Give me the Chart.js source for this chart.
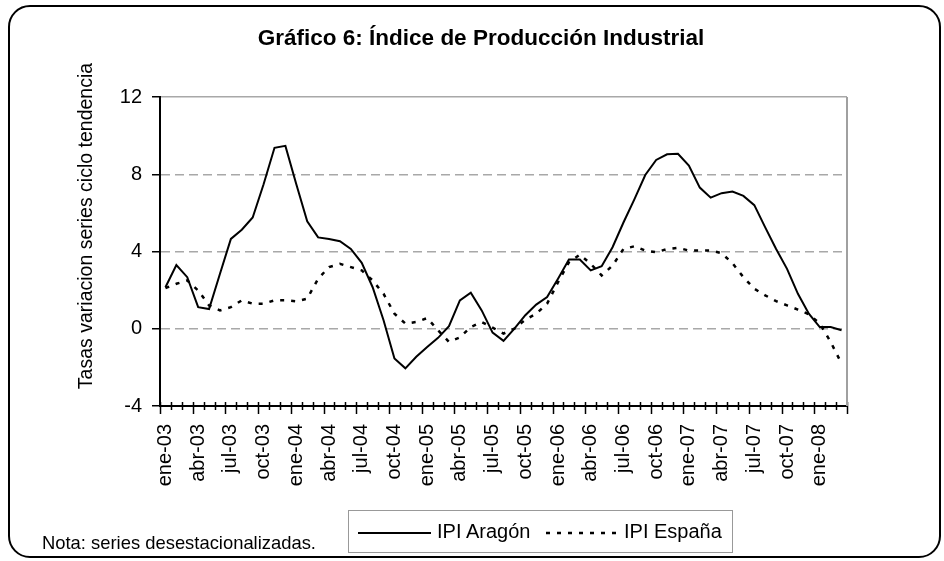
<!DOCTYPE html>
<html>
<head>
<meta charset="utf-8">
<script src="https://cdn.jsdelivr.net/npm/chart.js@4"></script>
<style>
  body { margin: 0; background: #fff; font-family: "Liberation Sans", Arial, sans-serif; }
  #wrap { position: relative; width: 944px; height: 561px; overflow: hidden; }
  #frame { position: absolute; left: 8px; top: 5px; width: 933px; height: 553px; box-sizing: border-box;
           border: 2px solid #000; border-radius: 22px; }
  #titulo { position: absolute; left: 0; width: 962px; top: 25px; text-align: center;
            font-weight: bold; font-size: 22.5px; color: #000; }
  #ytitulo { position: absolute; left: 85px; top: 226px; transform: translate(-50%, -50%) rotate(-90deg);
             white-space: nowrap; font-size: 19.5px; color: #000; }
  #leyenda { position: absolute; left: 348px; top: 510px; width: 385px; height: 43px; box-sizing: border-box;
             border: 1px solid #999; background: #fff; }
  #leyenda svg { position: absolute; left: 0; top: 0; }
  .leytxt { position: absolute; top: 9px; font-size: 20px; color: #000; }
  #nota { position: absolute; left: 42px; top: 532px; font-size: 18.4px; color: #000; }
</style>
</head>
<body>
<div id="wrap">
  <canvas id="ipiChart" width="944" height="561"></canvas>
  <div id="frame"></div>
  <div id="titulo">Gráfico 6: Índice de Producción Industrial</div>
  <div id="ytitulo">Tasas variacion series ciclo tendencia</div>
  <div id="leyenda">
    <svg width="385" height="43">
      <line x1="9" y1="22" x2="82" y2="22" stroke="#000" stroke-width="2"/>
      <line x1="197" y1="22" x2="269" y2="22" stroke="#000" stroke-width="2.5" stroke-dasharray="4 7"/>
    </svg>
    <span class="leytxt" style="left:88px">IPI Aragón</span>
    <span class="leytxt" style="left:275px">IPI España</span>
  </div>
  <div id="nota">Nota: series desestacionalizadas.</div>
</div>
<script>
  const meses = [
    "ene-03","feb-03","mar-03","abr-03","may-03","jun-03","jul-03","ago-03","sep-03","oct-03","nov-03","dic-03",
    "ene-04","feb-04","mar-04","abr-04","may-04","jun-04","jul-04","ago-04","sep-04","oct-04","nov-04","dic-04",
    "ene-05","feb-05","mar-05","abr-05","may-05","jun-05","jul-05","ago-05","sep-05","oct-05","nov-05","dic-05",
    "ene-06","feb-06","mar-06","abr-06","may-06","jun-06","jul-06","ago-06","sep-06","oct-06","nov-06","dic-06",
    "ene-07","feb-07","mar-07","abr-07","may-07","jun-07","jul-07","ago-07","sep-07","oct-07","nov-07","dic-07",
    "ene-08","feb-08","mar-08"
  ];

  const ipiAragon = [
    2.15, 3.3, 2.67, 1.12, 1.02, 2.85, 4.65, 5.13, 5.76, 7.48, 9.37, 9.47,
    7.48, 5.56, 4.73, 4.65, 4.53, 4.13, 3.41, 2.15, 0.44, -1.54, -2.05, -1.45,
    -0.94, -0.47, 0.13, 1.47, 1.87, 0.95, -0.2, -0.63, 0.01, 0.7, 1.25, 1.64,
    2.59, 3.58, 3.58, 3.02, 3.24, 4.22, 5.5, 6.7, 7.96, 8.74, 9.03, 9.06,
    8.45, 7.31, 6.79, 7.02, 7.1, 6.88, 6.4, 5.25, 4.13, 3.1, 1.81, 0.78,
    0.09, 0.09, -0.08
  ];

  const ipiEspana = [
    2.1, 2.33, 2.5, 1.98, 1.21, 0.95, 1.12, 1.47, 1.3, 1.3, 1.47, 1.47,
    1.42, 1.56, 2.59, 3.19, 3.36, 3.19, 3.02, 2.5, 1.81, 0.78, 0.27, 0.35,
    0.55, -0.08, -0.68, -0.45, 0.09, 0.35, 0.06, -0.25, 0.01, 0.47, 0.78, 1.3,
    2.41, 3.44, 3.84, 3.36, 2.76, 3.27, 4.13, 4.27, 4.05, 3.96, 4.13, 4.19,
    4.05, 4.05, 4.05, 3.91, 3.39, 2.67, 2.07, 1.73, 1.43, 1.21, 0.99, 0.75,
    0.27, -0.68, -1.8
  ];

  const yMin = -4, yMax = 12, yPaso = 4;

  const fuente = '"Liberation Sans", Arial, sans-serif';

  // marcas del eje X: pequeñas en cada mes, largas cada trimestre
  const marcasX = {
    id: "marcasX",
    afterDatasetsDraw(chart) {
      const xs = chart.scales.x;
      const ctx = chart.ctx;
      const paso = xs.getPixelForValue(1) - xs.getPixelForValue(0);
      const x0 = xs.getPixelForValue(0) - paso / 2;
      const y = xs.top;
      ctx.save();
      ctx.strokeStyle = "#000";
      ctx.lineWidth = 1.5;
      for (let i = 0; i <= meses.length; i++) {
        const x = Math.round(x0 + i * paso) + 0.5;
        ctx.beginPath();
        ctx.moveTo(x, y - 4);
        ctx.lineTo(x, y + (i % 3 === 0 ? 8 : 4));
        ctx.stroke();
      }
      // borde derecho del área de trazado
      const a = chart.chartArea;
      ctx.strokeStyle = "#a0a0a0";
      ctx.lineWidth = 2;
      ctx.beginPath();
      ctx.moveTo(a.right, a.top);
      ctx.lineTo(a.right, a.bottom);
      ctx.stroke();
      ctx.restore();
    }
  };

  const ctx = document.getElementById("ipiChart").getContext("2d");
  new Chart(ctx, {
    type: "line",
    data: {
      labels: meses,
      datasets: [
        {
          label: "IPI Aragón",
          data: ipiAragon,
          borderColor: "#000",
          borderWidth: 2,
          pointRadius: 0,
          tension: 0,
          fill: false,
        },
        {
          label: "IPI España",
          data: ipiEspana,
          borderColor: "#000",
          borderWidth: 2.5,
          borderDash: [4, 7],
          pointRadius: 0,
          tension: 0,
          fill: false,
        },
      ],
    },
    options: {
      responsive: false,
      animation: false,
      layout: { padding: { left: 0, right: 97, top: 97, bottom: 0 } },
      plugins: {
        legend: { display: false },
        title: { display: false },
        tooltip: { enabled: false },
      },
      scales: {
        x: {
          offset: true,
          afterFit: (s) => { s.height = 155; },
          grid: { display: true, drawOnChartArea: false, drawTicks: false },
          border: { color: "#000", width: 2 },
          ticks: {
            autoSkip: false,
            minRotation: 90,
            maxRotation: 90,
            padding: 18,
            color: "#000",
            font: { family: fuente, size: 20 },
            callback: (v, i) => (i % 3 === 0 ? meses[i] : ""),
          },
        },
        y: {
          min: yMin,
          max: yMax,
          afterFit: (s) => { s.width = 160; },
          grid: {
            color: (c) => (c.tick && c.tick.value === yMin ? "rgba(0,0,0,0)" : "#a8a8a8"),
            lineWidth: 1.5,
            drawTicks: true,
            tickLength: 8,
            tickColor: "#000",
            tickWidth: 1.5,
          },
          border: {
            color: "#000",
            width: 2,
            dash: (c) => (c.tick && c.tick.value !== yMax ? [9, 5] : []),
          },
          ticks: {
            stepSize: yPaso,
            padding: 10,
            color: "#000",
            font: { family: fuente, size: 20 },
          },
        },
      },
    },
    plugins: [marcasX],
  });
</script>
</body>
</html>
